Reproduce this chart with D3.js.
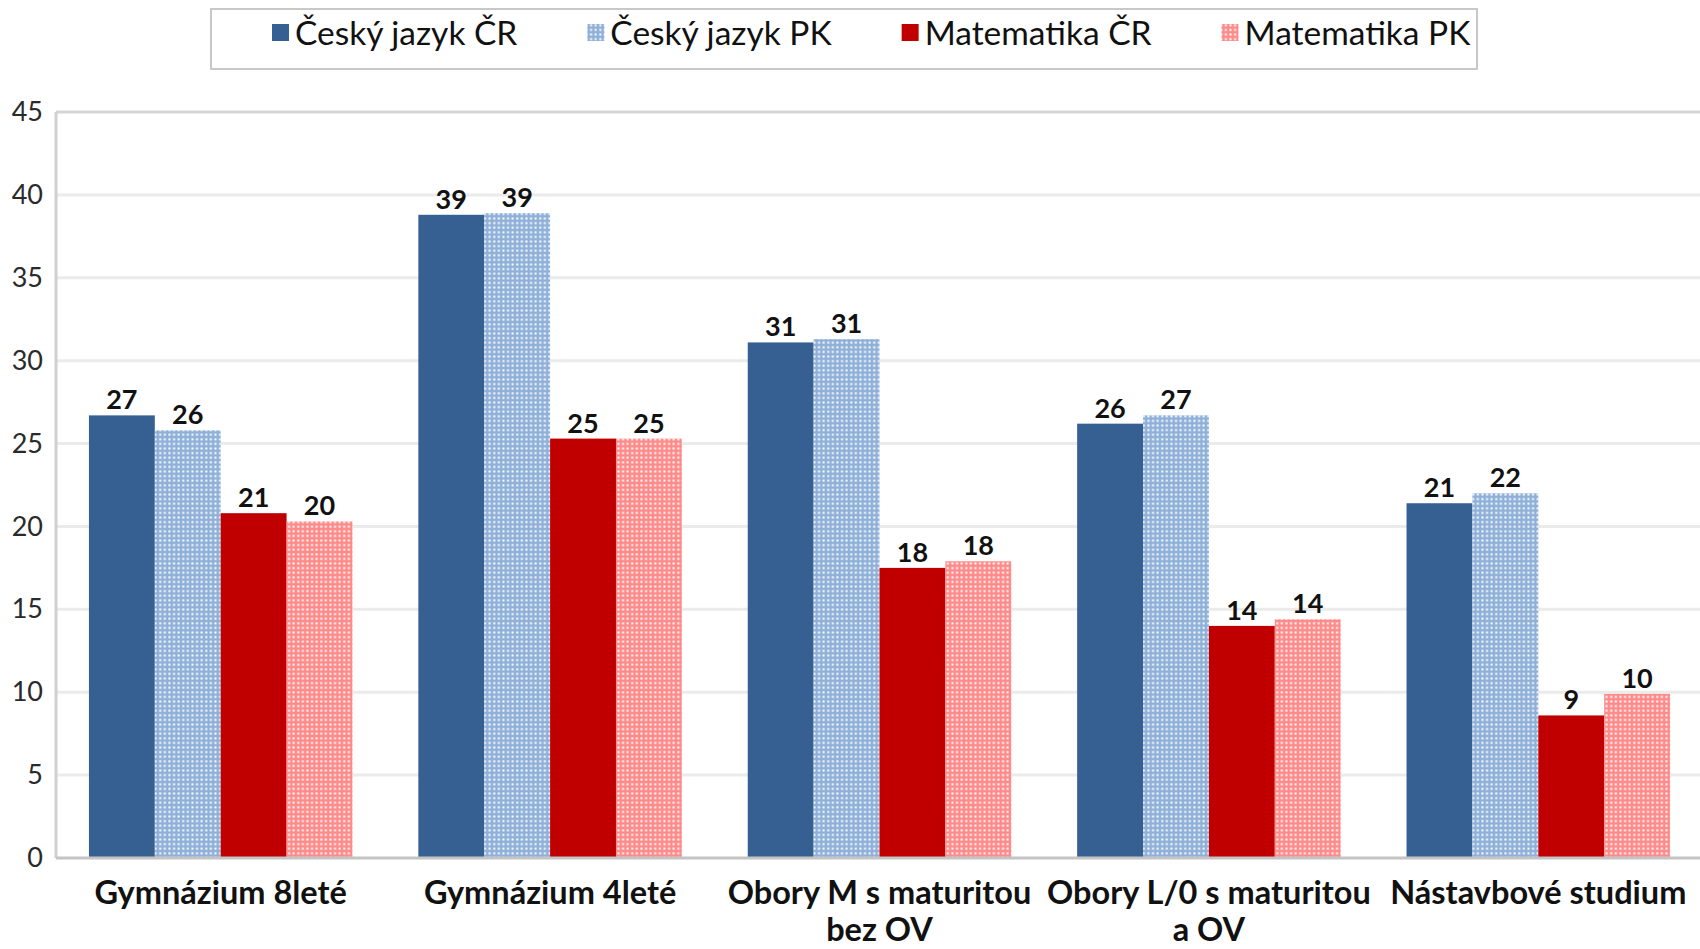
<!DOCTYPE html>
<html>
<head>
<meta charset="utf-8">
<script src="https://cdn.jsdelivr.net/npm/d3@7"></script>
<style>
  body { margin: 0; background: #fff; }
  svg text { font-family: Lato, "Open Sans", sans-serif; }
</style>
</head>
<body>
<div id="chart"></div>
<script>
// Chart data
var categories = ["Gymnázium 8leté", "Gymnázium 4leté", "Obory M s maturitou|bez OV", "Obory L/0 s maturitou|a OV", "Nástavbové studium"];
var series = ["Český jazyk ČR", "Český jazyk PK", "Matematika ČR", "Matematika PK"];
var cjCR = [26.7, 38.8, 31.1, 26.2, 21.4];
var cjPK = [25.8, 38.9, 31.3, 26.7, 22.0];
var matCR = [20.8, 25.3, 17.5, 14.0, 8.6];
var matPK = [20.3, 25.3, 17.9, 14.4, 9.9];
var yTicks = [0, 5, 10, 15, 20, 25, 30, 35, 40, 45];

var values = [cjCR, cjPK, matCR, matPK];

// Chart dimensions
var width = 1700, height = 949;
var plot = {left: 56, right: 1703, top: 112, bottom: 858};

var svg = d3.select("#chart").append("svg")
    .attr("width", width)
    .attr("height", height);

// Patterns for PK series (dotted fill)
var defs = svg.append("defs");
function dotPattern(id, base) {
    var p = defs.append("pattern")
        .attr("id", id)
        .attr("patternUnits", "userSpaceOnUse")
        .attr("width", 4.6)
        .attr("height", 4.6);
    p.append("rect").attr("width", 4.6).attr("height", 4.6).attr("fill", base);
    p.append("rect").attr("x", 1.3).attr("y", 1.3).attr("width", 2).attr("height", 2).attr("fill", "#fff");
}
dotPattern("dotBlue", "#8fb0d8");
dotPattern("dotRed", "#ff8a8a");

var fills = ["#376092", "url(#dotBlue)", "#c00000", "url(#dotRed)"];

// Scales
var y = d3.scaleLinear().domain([0, 45]).range([plot.bottom, plot.top]);
var x0 = d3.scaleBand().domain(categories).range([plot.left, plot.right])
    .paddingInner(0.2).paddingOuter(0.1);
var x1 = d3.scaleBand().domain(series).range([0, x0.bandwidth()]);

// Gridlines
svg.append("g").selectAll("line")
    .data(yTicks.filter(function(d) { return d > 0; }))
    .enter().append("line")
    .attr("x1", plot.left).attr("x2", width)
    .attr("y1", function(d) { return y(d); })
    .attr("y2", function(d) { return y(d); })
    .attr("stroke", function(d) { return d == 45 ? "#d4d4d4" : "#ebebeb"; })
    .attr("stroke-width", 3);

// Y axis tick labels
var yAxis = d3.axisLeft(y).tickValues(yTicks).tickSize(0).tickPadding(13);
var yg = svg.append("g").attr("transform", "translate(" + plot.left + ",0)").call(yAxis);
yg.select(".domain").remove();
yg.selectAll("text")
    .attr("font-size", 27)
    .attr("fill", "#2a2a2a")
    .style("font-family", "Lato, sans-serif");

// Bars
var groups = svg.append("g").selectAll("g")
    .data(categories)
    .enter().append("g")
    .attr("transform", function(d) { return "translate(" + x0(d) + ",0)"; });

groups.each(function(cat, ci) {
    var g = d3.select(this);
    series.forEach(function(s, si) {
        var v = values[si][ci];
        g.append("rect")
            .attr("x", x1(s))
            .attr("y", y(v))
            .attr("width", x1.bandwidth())
            .attr("height", y(0) - y(v))
            .attr("fill", fills[si]);
        g.append("text")
            .attr("x", x1(s) + x1.bandwidth() / 2)
            .attr("y", y(v) - 6)
            .attr("text-anchor", "middle")
            .attr("font-size", 27)
            .attr("font-weight", "bold")
            .attr("fill", "#111")
            .text(d3.format(".0f")(v));
    });
});

// Axis lines
svg.append("line")
    .attr("x1", plot.left).attr("x2", plot.left)
    .attr("y1", plot.top).attr("y2", plot.bottom)
    .attr("stroke", "#d0d0d0").attr("stroke-width", 3);
svg.append("line")
    .attr("x1", plot.left).attr("x2", width)
    .attr("y1", plot.bottom).attr("y2", plot.bottom)
    .attr("stroke", "#c4c4c4").attr("stroke-width", 3);

// Category labels (two lines where needed)
svg.append("g").selectAll("text")
    .data(categories)
    .enter().append("text")
    .attr("x", function(d) { return x0(d) + x0.bandwidth() / 2; })
    .attr("y", 904)
    .attr("text-anchor", "middle")
    .attr("font-size", 32.5)
    .attr("font-weight", "bold")
    .attr("fill", "#111")
    .each(function(d) {
        var t = d3.select(this);
        d.split("|").forEach(function(l, i) {
            t.append("tspan")
                .attr("x", x0(d) + x0.bandwidth() / 2)
                .attr("dy", i == 0 ? 0 : 37)
                .text(l);
        });
    });

// Legend
var legend = svg.append("g");
legend.append("rect")
    .attr("x", 211).attr("y", 9)
    .attr("width", 1266).attr("height", 60)
    .attr("fill", "#fff")
    .attr("stroke", "#c8c8c8").attr("stroke-width", 2);

var lx = 272;
series.forEach(function(s, i) {
    legend.append("rect")
        .attr("x", lx).attr("y", 24)
        .attr("width", 17).attr("height", 17)
        .attr("fill", fills[i]);
    var t = legend.append("text")
        .attr("x", lx + 23).attr("y", 45)
        .attr("font-size", 33.5)
        .attr("fill", "#111")
        .text(s);
    lx += 23 + t.node().getComputedTextLength() + 70;
});
</script>
</body>
</html>
